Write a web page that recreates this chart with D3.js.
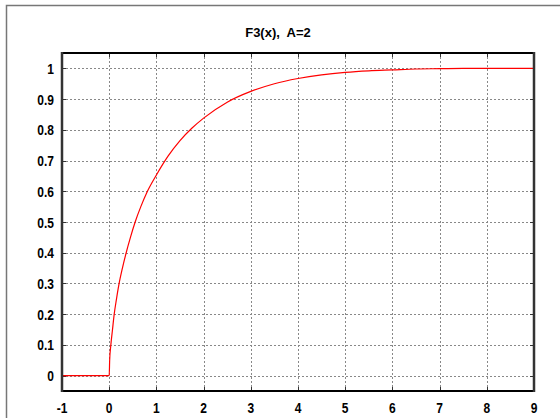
<!DOCTYPE html>
<html><head><meta charset="utf-8">
<script src="https://cdn.jsdelivr.net/npm/d3@7"></script>
<style>body{margin:0;background:#fff}svg{display:block}</style>
</head><body>
<script>
const title = "F3(x),  A=2";
const xTicks = [-1,0,1,2,3,4,5,6,7,8,9];
const yTicks = [0,0.1,0.2,0.3,0.4,0.5,0.6,0.7,0.8,0.9,1];
const xValues = [-1, 0, 0.01, 0.035, 0.07, 0.106, 0.155, 0.21, 0.28, 0.36, 0.45, 0.55, 0.67, 0.81, 1.0, 1.25, 1.5, 1.75, 2.0, 2.5, 3.0, 3.5, 4.0, 4.5, 5.0, 5.5, 6.0, 6.5, 7.0, 7.5, 9.0];
const yValues = [0, 0, 0.05, 0.1, 0.15, 0.2, 0.25, 0.3, 0.35, 0.4, 0.45, 0.5, 0.55, 0.6, 0.653, 0.715, 0.765, 0.805, 0.838, 0.89, 0.925, 0.95, 0.967, 0.979, 0.987, 0.992, 0.995, 0.998, 0.999, 1.0, 1.0];

const W = 560, H = 418;
const L = 62, R = 534, T = 53, B = 391;
const svg = d3.select("body").append("svg").attr("width", W).attr("height", H);

// outer frame
svg.append("rect").attr("x", 6.5).attr("y", 5.5).attr("width", 600).attr("height", 500)
  .attr("fill", "none").attr("stroke", "#777").attr("stroke-width", 1.5);

const x = d3.scaleLinear().domain([-1, 9]).range([L, R]);
const y = d3.scaleLinear().domain([-0.05, 1.05]).range([B, T]);

// grid
const g = svg.append("g");
g.selectAll(".gx").data(xTicks.slice(1, -1)).join("line")
  .attr("x1", d => Math.round(x(d)) + 0.5).attr("x2", d => Math.round(x(d)) + 0.5)
  .attr("y1", T).attr("y2", B)
  .attr("stroke", "#888").attr("stroke-width", 1).attr("stroke-dasharray", "2,2");
g.selectAll(".gy").data(yTicks).join("line")
  .attr("y1", d => Math.round(y(d)) + 0.5).attr("y2", d => Math.round(y(d)) + 0.5)
  .attr("x1", L).attr("x2", R)
  .attr("stroke", "#888").attr("stroke-width", 1).attr("stroke-dasharray", "2,2");

// ticks inward
g.selectAll(".tt").data(xTicks.slice(1, -1)).join("line")
  .attr("x1", d => Math.round(x(d)) + 0.5).attr("x2", d => Math.round(x(d)) + 0.5)
  .attr("y1", T).attr("y2", T + 4).attr("stroke", "#333");
g.selectAll(".tb").data(xTicks.slice(1, -1)).join("line")
  .attr("x1", d => Math.round(x(d)) + 0.5).attr("x2", d => Math.round(x(d)) + 0.5)
  .attr("y1", B - 4).attr("y2", B).attr("stroke", "#333");
g.selectAll(".tl").data(yTicks).join("line")
  .attr("y1", d => Math.round(y(d)) + 0.5).attr("y2", d => Math.round(y(d)) + 0.5)
  .attr("x1", L).attr("x2", L + 4).attr("stroke", "#333");
g.selectAll(".tr").data(yTicks).join("line")
  .attr("y1", d => Math.round(y(d)) + 0.5).attr("y2", d => Math.round(y(d)) + 0.5)
  .attr("x1", R - 4).attr("x2", R).attr("stroke", "#333");

// curve
const pts = xValues.map((v, i) => [v, yValues[i]]);
svg.append("path").datum(pts)
  .attr("d", d3.line().x(d => x(d[0])).y(d => y(d[1])).curve(d3.curveMonotoneX))
  .attr("fill", "none").attr("stroke", "#ff0000").attr("stroke-width", 1.2);

// border
svg.append("line").attr("x1", L).attr("x2", R).attr("y1", T).attr("y2", T).attr("stroke", "#000").attr("stroke-width", 2);
svg.append("line").attr("x1", L).attr("x2", R).attr("y1", B).attr("y2", B).attr("stroke", "#000").attr("stroke-width", 2);
svg.append("line").attr("x1", L).attr("x2", L).attr("y1", T - 1).attr("y2", B + 1).attr("stroke", "#333").attr("stroke-width", 2.5);
svg.append("line").attr("x1", R).attr("x2", R).attr("y1", T - 1).attr("y2", B + 1).attr("stroke", "#333").attr("stroke-width", 2.5);

// labels (condensed bold)
const font = "'Liberation Sans', Arial, sans-serif";
const sx = 0.8;
svg.selectAll(".xl").data(xTicks).join("text")
  .attr("transform", d => `translate(${x(d)},413) scale(${sx},1)`)
  .attr("text-anchor", "middle")
  .attr("font-family", font).attr("font-weight", "bold").attr("font-size", 15)
  .text(d => d);
svg.selectAll(".yl").data(yTicks).join("text")
  .attr("transform", d => `translate(54,${y(d) + 5.5}) scale(${sx},1)`)
  .attr("text-anchor", "end")
  .attr("font-family", font).attr("font-weight", "bold").attr("font-size", 15)
  .text(d => d);
svg.append("text").attr("x", 278).attr("y", 37).attr("text-anchor", "middle")
  .attr("font-family", font).attr("font-weight", "bold").attr("font-size", 13)
  .attr("xml:space", "preserve").style("white-space", "pre")
  .text(title);
</script>
</body></html>
